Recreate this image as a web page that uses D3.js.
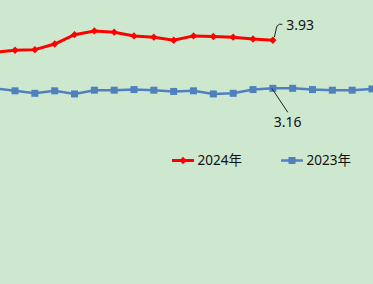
<!DOCTYPE html>
<html>
<head>
<meta charset="utf-8">
<script src="https://cdn.jsdelivr.net/npm/d3@7"></script>
<style>
  html, body { margin: 0; padding: 0; background: #cde8cf; }
  svg { display: block; }
</style>
</head>
<body>
<div id="chart"></div>
<script>
// data (cropped view, index 0 sits just left of the frame)
const periods = ['1', '2', '3', '4', '5', '6', '7', '8', '9', '10', '11', '12', '13', '14', '15', '16', '17', '18', '19', '20'];
const values2024 = [3.74, 3.77, 3.78, 3.87, 4.02, 4.08, 4.06, 4.00, 3.98, 3.93, 4.00, 3.99, 3.98, 3.95, 3.93];
const values2023 = [3.16, 3.12, 3.08, 3.12, 3.07, 3.13, 3.13, 3.14, 3.13, 3.11, 3.12, 3.07, 3.08, 3.14, 3.16, 3.16, 3.14, 3.13, 3.13, 3.15];
const seriesNames = ['2024年', '2023年'];

const width = 373;
const height = 284;

const x = d3.scaleLinear()
  .domain([0, periods.length - 1])
  .range([-4.8, 372]);

const y = d3.scaleLinear()
  .domain([3.0, 4.0])
  .range([98.3, 35.9]);

const svg = d3.select('#chart')
  .append('svg')
  .attr('width', width)
  .attr('height', height);

svg.append('rect')
  .attr('width', width)
  .attr('height', height)
  .attr('fill', '#cde8cf');

const line = d3.line()
  .x((d, i) => x(i))
  .y(d => y(d));

const red = '#ff0000';
const blue = '#4f81bd';

// 2023 series
svg.append('path')
  .datum(values2023)
  .attr('d', line)
  .attr('fill', 'none')
  .attr('stroke', blue)
  .attr('stroke-width', 2.5);

svg.selectAll('.sq')
  .data(values2023)
  .enter().append('path')
  .attr('class', 'sq')
  .attr('transform', (d, i) => 'translate(' + x(i) + ',' + y(d) + ')')
  .attr('d', d3.symbol(d3.symbolSquare, 49))
  .attr('fill', blue);

// 2024 series
svg.append('path')
  .datum(values2024)
  .attr('d', line)
  .attr('fill', 'none')
  .attr('stroke', red)
  .attr('stroke-width', 3);

svg.selectAll('.dm')
  .data(values2024)
  .enter().append('path')
  .attr('class', 'dm')
  .attr('transform', (d, i) => 'translate(' + x(i) + ',' + y(d) + ')')
  .attr('d', d3.symbol(d3.symbolDiamond2, 34))
  .attr('fill', red);

// data labels with leader lines
const last24 = values2024.length - 1;
const lx24 = x(last24), ly24 = y(values2024[last24]);
svg.append('polyline')
  .attr('points', [[lx24 + 1.5, ly24 - 3], [lx24 + 4, ly24 - 14], [lx24 + 6.5, ly24 - 16], [lx24 + 9.5, ly24 - 16]].join(' '))
  .attr('fill', 'none')
  .attr('stroke', '#222')
  .attr('stroke-width', 1);

svg.append('text')
  .attr('x', lx24 + 13.5)
  .attr('y', ly24 - 15.5)
  .attr('dy', '0.35em')
  .attr('font-family', 'Noto Sans, sans-serif')
  .attr('font-size', 14)
  .attr('fill', '#111')
  .text(values2024[last24].toFixed(2));

const idx23 = last24;
const lx23 = x(idx23), ly23 = y(values2023[idx23]);
svg.append('line')
  .attr('x1', lx23 - 1)
  .attr('y1', ly23)
  .attr('x2', lx23 + 15)
  .attr('y2', ly23 + 24)
  .attr('stroke', '#222')
  .attr('stroke-width', 1);

svg.append('text')
  .attr('x', lx23 + 1)
  .attr('y', ly23 + 33.5)
  .attr('dy', '0.35em')
  .attr('font-family', 'Noto Sans, sans-serif')
  .attr('font-size', 14)
  .attr('fill', '#111')
  .text(values2023[idx23].toFixed(2));

// legend
const legend = [
  { name: seriesNames[0], color: red, symbol: d3.symbolDiamond2, size: 34, x: 172 },
  { name: seriesNames[1], color: blue, symbol: d3.symbolSquare, size: 49, x: 281 }
];
const legendY = 160.5;

const lg = svg.selectAll('.legend')
  .data(legend)
  .enter().append('g')
  .attr('class', 'legend')
  .attr('transform', d => 'translate(' + d.x + ',' + legendY + ')');

lg.append('line')
  .attr('x1', 0)
  .attr('x2', 22)
  .attr('stroke', d => d.color)
  .attr('stroke-width', d => d.color === red ? 3 : 2.5);

lg.append('path')
  .attr('transform', 'translate(11,0)')
  .attr('d', d => d3.symbol(d.symbol, d.size)())
  .attr('fill', d => d.color);

lg.append('text')
  .attr('x', 25.5)
  .attr('dy', '0.35em')
  .attr('font-family', 'Noto Sans, Noto Sans CJK SC, sans-serif')
  .attr('font-size', 13.5)
  .attr('fill', '#111')
  .text(d => d.name);
</script>
</body>
</html>
